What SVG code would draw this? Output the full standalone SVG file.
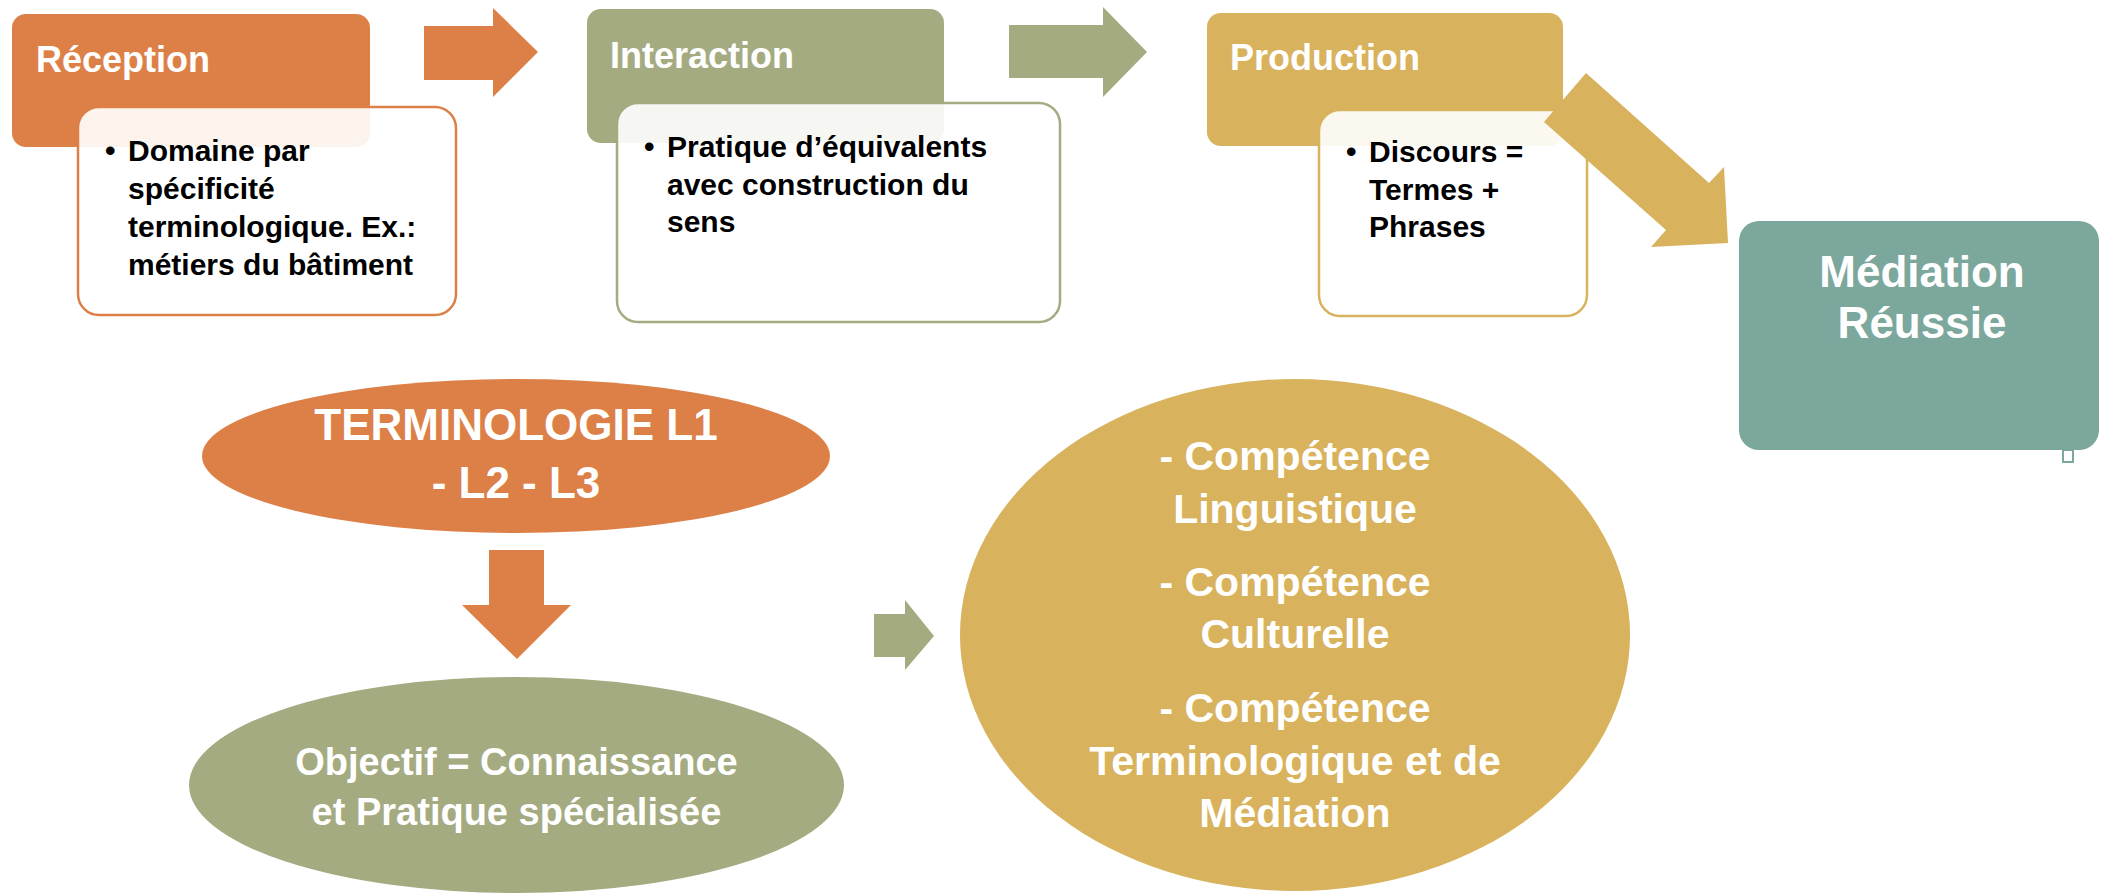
<svg xmlns="http://www.w3.org/2000/svg" width="2101" height="893" viewBox="0 0 2101 893">
<style>
.t{font-family:"Liberation Sans",Arial,sans-serif;font-weight:bold}
.w{fill:#FFFFFF}
.k{fill:#000000}
.title{font-size:36px}
.body{font-size:30px}
.sub{fill:#FFFFFF;fill-opacity:0.9;stroke-width:2.5}
.big{font-size:44px;text-anchor:middle}
.mid{font-size:41px;text-anchor:middle}
</style>
<rect width="2101" height="893" fill="#FFFFFF"/>
<g id="reception">
<rect x="12" y="14" width="358" height="133" rx="14" fill="#DD8047"/>
<text class="t title w" x="36" y="72">Réception</text>
<rect class="sub" x="78" y="107" width="378" height="208" rx="21" stroke="#DD8047"/>
<text class="t body k" x="105" y="161">•</text>
<text class="t body k"><tspan x="128" y="161">Domaine par</tspan><tspan x="128" y="199">spécificité</tspan><tspan x="128" y="237">terminologique. Ex.:</tspan><tspan x="128" y="275">métiers du bâtiment</tspan></text>
</g>
<g id="interaction">
<rect x="587" y="9" width="357" height="134" rx="14" fill="#A5AB81"/>
<text class="t title w" x="610" y="68">Interaction</text>
<rect class="sub" x="617" y="103" width="443" height="219" rx="21" stroke="#A5AB81"/>
<text class="t body k" x="644" y="157">•</text>
<text class="t body k"><tspan x="667" y="157">Pratique d’équivalents</tspan><tspan x="667" y="195">avec construction du</tspan><tspan x="667" y="232">sens</tspan></text>
</g>
<g id="production">
<rect x="1207" y="13" width="356" height="133" rx="14" fill="#D8B25C"/>
<text class="t title w" x="1230" y="70">Production</text>
<rect class="sub" x="1319" y="110" width="268" height="206" rx="21" stroke="#D8B25C"/>
<text class="t body k" x="1346" y="162">•</text>
<text class="t body k"><tspan x="1369" y="162">Discours =</tspan><tspan x="1369" y="200">Termes +</tspan><tspan x="1369" y="237">Phrases</tspan></text>
</g>
<g id="mediation">
<rect x="1739" y="221" width="360" height="229" rx="20" fill="#7BA79D"/>
<text class="t big w"><tspan x="1922" y="287">Médiation</tspan><tspan x="1922" y="338">Réussie</tspan></text>
<rect x="2063" y="450" width="10" height="12" fill="#FFFFFF" stroke="#7BA79D" stroke-width="2"/>
</g>
<g id="terminologie">
<ellipse cx="516" cy="456" rx="314" ry="77" fill="#DD8047"/>
<text class="t big w"><tspan x="516" y="440">TERMINOLOGIE L1</tspan><tspan x="516" y="498">- L2 - L3</tspan></text>
</g>
<g id="objectif">
<ellipse cx="516.5" cy="785" rx="327.5" ry="108" fill="#A5AB81"/>
<text class="t w" style="font-size:38px;text-anchor:middle"><tspan x="516.5" y="775">Objectif = Connaissance</tspan><tspan x="516.5" y="825">et Pratique spécialisée</tspan></text>
</g>
<g id="competences">
<ellipse cx="1295" cy="635" rx="335" ry="256" fill="#D8B25C"/>
<text class="t mid w"><tspan x="1295" y="470">- Compétence</tspan><tspan x="1295" y="523">Linguistique</tspan><tspan x="1295" y="596">- Compétence</tspan><tspan x="1295" y="648">Culturelle</tspan><tspan x="1295" y="722">- Compétence</tspan><tspan x="1295" y="775">Terminologique et de</tspan><tspan x="1295" y="827">Médiation</tspan></text>
</g>
<g id="connectors">
<polygon points="424,26 493,26 493,8 538,52 493,97 493,80 424,80" fill="#DD8047"/>
<polygon points="1009,25 1103,25 1103,7 1147,52 1103,97 1103,78 1009,78" fill="#A5AB81"/>
<polygon points="1586,73 1709,183 1724,167 1728,243 1651,247 1666,230 1544,122" fill="#D8B25C"/>
<polygon points="489,550 544,550 544,605 571,605 517,659 462,605 489,605" fill="#DD8047"/>
<polygon points="874,614 905,614 905,600 934,636 905,670 905,657 874,657" fill="#A5AB81"/>
</g>
</svg>
